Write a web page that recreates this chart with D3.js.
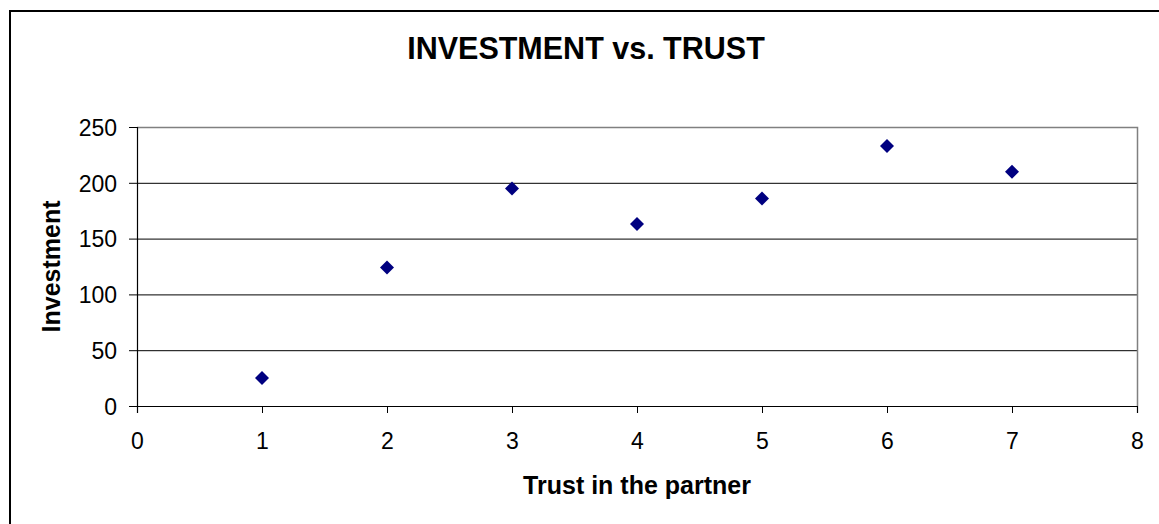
<!DOCTYPE html>
<html>
<head>
<meta charset="utf-8">
<script src="https://cdn.jsdelivr.net/npm/d3@7"></script>
<style>
  body { margin: 0; background: #fff; }
  text { font-family: Arial, "Liberation Sans", sans-serif; fill: #000; }
</style>
</head>
<body>
<div id="chart"></div>
<script>
// data
const trust      = [1, 2, 3, 4, 5, 6, 7];
const investment = [25, 124, 195, 163, 186, 233, 210];
const xTicks = [0, 1, 2, 3, 4, 5, 6, 7, 8];
const yTicks = [0, 50, 100, 150, 200, 250];

const W = 1159, H = 524;
const margin = { top: 127, right: 22, bottom: 118, left: 137 };
const iw = W - margin.left - margin.right;
const ih = H - margin.top - margin.bottom;

const svg = d3.select("#chart").append("svg")
  .attr("width", W).attr("height", H);

svg.append("rect").attr("width", W).attr("height", H).attr("fill", "#fff");

// outer chart border (only top/left visible in the crop)
svg.append("path")
  .attr("d", `M10,${H + 5}V11H${W + 5}`)
  .attr("fill", "none").attr("stroke", "#000").attr("stroke-width", 2);

const x = d3.scaleLinear().domain([0, 8]).range([0, iw]);
const y = d3.scaleLinear().domain([0, 250]).range([ih, 0]);

const g = svg.append("g").attr("transform", `translate(${margin.left},${margin.top})`);

// gridlines
g.append("g").selectAll("line")
  .data(yTicks.filter(v => v > 0 && v < 250))
  .join("line")
  .attr("x1", 0).attr("x2", iw)
  .attr("y1", d => y(d) + 0.5).attr("y2", d => y(d) + 0.5)
  .attr("stroke", "#000").attr("stroke-width", 1);

// plot border (top + right gray)
g.append("path")
  .attr("d", `M0,0.5H${iw + 0.5}V${ih}`)
  .attr("fill", "none").attr("stroke", "#808080").attr("stroke-width", 1.5);

// axes
const xAxis = g.append("g").attr("transform", `translate(0,${ih})`)
  .call(d3.axisBottom(x).tickValues(xTicks).tickFormat(d3.format("d")).tickSize(7).tickPadding(20));
const yAxis = g.append("g")
  .call(d3.axisLeft(y).tickValues(yTicks).tickSize(8).tickPadding(12));

[xAxis, yAxis].forEach(a => {
  a.select(".domain").attr("stroke", "#000").attr("stroke-width", 1.2);
  a.selectAll(".tick line").attr("stroke", "#000");
  a.selectAll(".tick text").attr("font-size", 23).attr("fill", "#000")
    .attr("font-family", "Arial, 'Liberation Sans', sans-serif");
});
yAxis.selectAll(".tick text").attr("dy", "0.36em");

// points
const diamond = d3.symbol().type(d3.symbolDiamond2).size(125);
g.append("g").selectAll("path")
  .data(trust.map((t, i) => ({ t, v: investment[i] })))
  .join("path")
  .attr("d", diamond)
  .attr("transform", d => `translate(${x(d.t)},${y(d.v)})`)
  .attr("fill", "#000080");

// titles
svg.append("text")
  .attr("x", 586).attr("y", 59)
  .attr("text-anchor", "middle")
  .attr("font-size", 30.5).attr("font-weight", "bold")
  .text("INVESTMENT vs. TRUST");

svg.append("text")
  .attr("x", margin.left + iw / 2).attr("y", 494)
  .attr("text-anchor", "middle")
  .attr("font-size", 25).attr("font-weight", "bold")
  .text("Trust in the partner");

svg.append("text")
  .attr("transform", `translate(60,${margin.top + ih / 2}) rotate(-90)`)
  .attr("text-anchor", "middle")
  .attr("font-size", 25).attr("font-weight", "bold")
  .text("Investment");
</script>
</body>
</html>
